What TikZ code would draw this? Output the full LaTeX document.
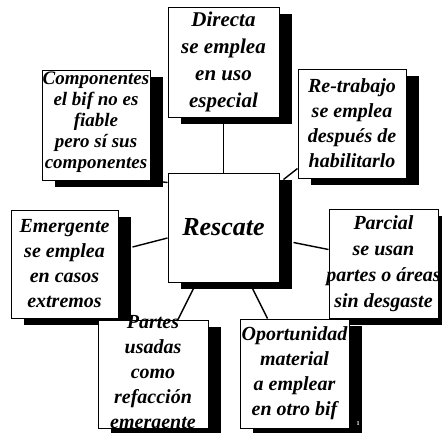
\documentclass[tikz,border=0pt]{standalone}
\usepackage{fontspec}
\setmainfont{Liberation Serif}
\usetikzlibrary{shadows,calc,backgrounds}
\begin{document}
\begin{tikzpicture}[x=1pt,y=-1pt,
  box/.style={draw=black, line width=1pt, fill=white, inner sep=0pt,
    drop shadow={shadow xshift=13pt,shadow yshift=-7pt,opacity=1,fill=black}},
  txt/.style={inner sep=0pt, align=center, font=\bfseries\itshape\fontsize{20}{25}\selectfont},
  link/.style={line width=1.4pt}]
\useasboundingbox (0,0) rectangle (442,432);
% boxes
\node[box,minimum width=111pt,minimum height=110pt] (dir) at (223.5,62) {};
\node[box,minimum width=108pt,minimum height=110pt] (comp) at (96,125) {};
\node[box,minimum width=108pt,minimum height=109pt] (retr) at (352,123.5) {};
\node[box,minimum width=111pt,minimum height=109pt] (resc) at (223.5,227.5) {};
\node[box,minimum width=107pt,minimum height=108pt] (emer) at (64.5,264) {};
\node[box,minimum width=109pt,minimum height=109pt] (parc) at (383.5,263.5) {};
\node[box,minimum width=110pt,minimum height=108pt] (part) at (153,374) {};
\node[box,minimum width=109pt,minimum height=109pt] (opor) at (294.5,373.5) {};
% texts
\node[txt,font=\bfseries\itshape\fontsize{21}{27}\selectfont] (dirt) at (dir) {Directa\\se emplea\\en uso\\especial};
\node[txt,font=\bfseries\itshape\fontsize{19}{21}\selectfont] (compt) at ($(comp)+(0,-3)$) {Componentes\\el bif no es\\fiable\\pero sí sus\\componentes};
\node[txt,font=\bfseries\itshape\fontsize{20}{25}\selectfont] (retrt) at (retr) {Re-trabajo\\se emplea\\después de\\habilitarlo};
\node[txt,font=\bfseries\itshape\fontsize{26}{30}\selectfont] (resct) at (resc) {Rescate};
\node[txt] (emert) at (emer) {Emergente\\se emplea\\en casos\\extremos};
\node[txt,font=\bfseries\itshape\fontsize{20}{26}\selectfont] (parct) at (parc) {Parcial\\se usan\\partes o áreas\\sin desgaste};
\node[txt] (partt) at (part) {Partes\\usadas\\como\\refacción\\emergente};
\node[txt] (oport) at (opor) {Oportunidad\\material\\a emplear\\en otro bif};
\node[inner sep=0pt,text=white,font=\bfseries\fontsize{6}{6}\selectfont] (pg) at (358,424) {1};
% connectors
\begin{pgfonlayer}{background}
\draw[link] (dir.south) -- (resc.north);
\draw[link] (comp.south east) -- ($(resc.north west)+(0,10)$);
\draw[link] ($(retr.south west)+(0,-10)$) -- ($(resc.north east)+(4,7)$);
\draw[link] ($(emer.east)+(14,-17)$) -- ($(resc.west)+(0,10.5)$);
\draw[link] ($(resc.east)+(14,15)$) -- ($(parc.west)+(0,-14)$);
\draw[link] ($(resc.south)+(-27,0)$) -- ($(part.north)+(25,0)$);
\draw[link] ($(resc.south)+(26,0)$) -- ($(opor.north)+(-27,0)$);
\end{pgfonlayer}
\end{tikzpicture}
\end{document}
